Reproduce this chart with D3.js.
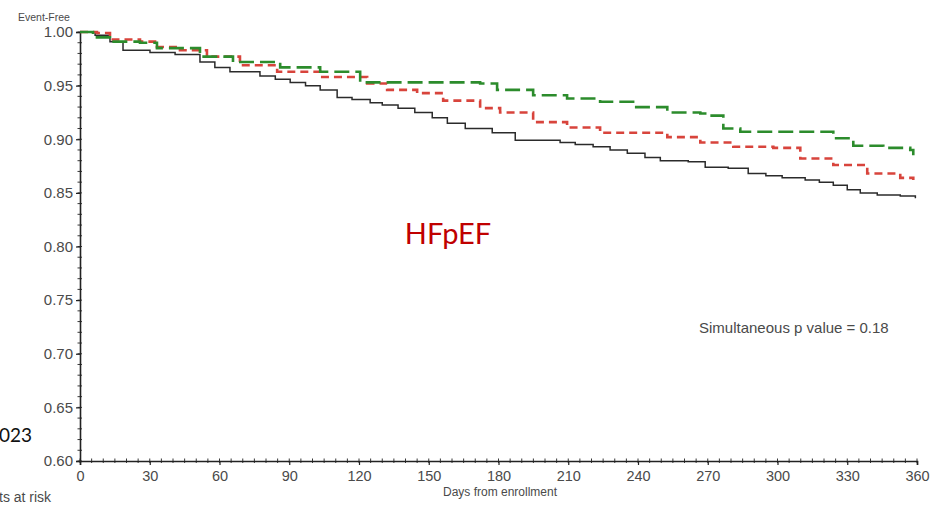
<!DOCTYPE html>
<html>
<head>
<meta charset="utf-8">
<script src="https://cdn.jsdelivr.net/npm/d3@7"></script>
<style>
  html, body { margin: 0; padding: 0; background: #fff; }
  svg { display: block; }
</style>
</head>
<body>
<svg id="chart" width="948" height="505"></svg>
<script>
// Kaplan-Meier event-free survival, HFpEF cohort
const xTicks = [0, 30, 60, 90, 120, 150, 180, 210, 240, 270, 300, 330, 360];
const yTicks = [0.60, 0.65, 0.70, 0.75, 0.80, 0.85, 0.90, 0.95, 1.00];

// black solid curve
const blackDays = [0, 6.5, 12.9, 18.5, 30.1, 40.9, 51.6, 58, 64.5, 77.4, 84, 90.4, 97, 103.3, 110.6, 117, 124.8, 130, 136.8, 144, 151.5, 158, 165.7, 177.3, 187.2, 206.5, 213, 220.7, 228, 235.4, 243, 249.6, 261.6, 268.9, 278.8, 287.4, 295, 302.0, 311.9, 318, 324.0, 330, 335.6, 342.9, 352.8, 359.3];
const blackVals = [1.000, 0.997, 0.991, 0.983, 0.981, 0.979, 0.972, 0.967, 0.963, 0.959, 0.956, 0.953, 0.950, 0.946, 0.939, 0.937, 0.934, 0.932, 0.929, 0.925, 0.920, 0.915, 0.910, 0.906, 0.899, 0.897, 0.895, 0.893, 0.890, 0.887, 0.883, 0.880, 0.879, 0.874, 0.873, 0.868, 0.866, 0.864, 0.862, 0.860, 0.857, 0.853, 0.850, 0.848, 0.847, 0.845];

// green long-dash curve
const greenDays = [0, 5.6, 12.9, 25.8, 33.1, 51.6, 65.8, 86.1, 103.3, 114.9, 120.5, 172.1, 179.4, 194.9, 209.5, 223.7, 237.9, 252.6, 266.8, 271.1, 276.7, 284.0, 317.1, 324.0, 332.6, 345.5, 357.1, 358.4];
const greenVals = [1.000, 0.995, 0.991, 0.990, 0.985, 0.977, 0.972, 0.967, 0.963, 0.963, 0.953, 0.952, 0.946, 0.941, 0.938, 0.935, 0.930, 0.925, 0.924, 0.922, 0.910, 0.907, 0.907, 0.901, 0.894, 0.892, 0.890, 0.885];

// red short-dash curve
const redDays = [0, 7.3, 12.9, 25.8, 33.1, 43.0, 54.6, 68.8, 84.8, 103.3, 116.2, 123.5, 132.1, 145.0, 156.2, 172.1, 180.7, 194.9, 209.5, 223.7, 252.6, 266.8, 281.0, 298.2, 309.8, 324.0, 338.6, 352.8, 358.4];
const redVals = [1.000, 0.999, 0.993, 0.991, 0.986, 0.983, 0.977, 0.969, 0.963, 0.958, 0.958, 0.952, 0.946, 0.943, 0.936, 0.929, 0.925, 0.916, 0.911, 0.906, 0.902, 0.897, 0.893, 0.892, 0.882, 0.876, 0.868, 0.864, 0.862];

const svg = d3.select("#chart");
const x = d3.scaleLinear().domain([0, 360]).range([80, 917]);
const y = d3.scaleLinear().domain([0.60, 1.00]).range([461, 32]);

const axisColor = "#222";
const labelColor = "#4a4a4a";
const font = "'Liberation Sans', Arial, sans-serif";

// minor ticks
const xMinor = d3.range(0, 361, 5);
const yMinor = d3.range(60, 101, 1).map(d => d / 100);

const xAxis = svg.append("g").attr("transform", "translate(0,461)")
  .call(d3.axisBottom(x).tickValues(xTicks).tickSize(4).tickFormat(d3.format("d")));
const yAxis = svg.append("g").attr("transform", "translate(80,0)")
  .call(d3.axisLeft(y).tickValues(yTicks).tickSize(4).tickFormat(d3.format(".2f")));

[xAxis, yAxis].forEach(g => {
  g.select(".domain").attr("stroke", axisColor).attr("stroke-width", 1.6);
  g.selectAll(".tick line").attr("stroke", axisColor).attr("stroke-width", 1.2);
  g.selectAll(".tick text").attr("fill", labelColor).style("font-family", font);
});
xAxis.selectAll(".tick text").style("font-size", "14.5px").attr("y", 10).attr("dy", "0.71em");
yAxis.selectAll(".tick text").style("font-size", "15px").attr("x", -7);

svg.append("g").selectAll("line").data(xMinor).join("line")
  .attr("x1", d => x(d)).attr("x2", d => x(d))
  .attr("y1", 458.5).attr("y2", 463)
  .attr("stroke", axisColor).attr("stroke-width", 0.9);
svg.append("g").selectAll("line").data(yMinor).join("line")
  .attr("x1", 77.5).attr("x2", 82)
  .attr("y1", d => y(d)).attr("y2", d => y(d))
  .attr("stroke", axisColor).attr("stroke-width", 0.9);

// survival curves
const line = d3.line().x(d => x(d[0])).y(d => y(d[1])).curve(d3.curveStepAfter);
const series = [
  {days: blackDays, vals: blackVals, color: "#2b2b2b", width: 1.5, dash: null},
  {days: redDays, vals: redVals, color: "#d8443c", width: 2.6, dash: "8,5"},
  {days: greenDays, vals: greenVals, color: "#2c8c2c", width: 2.6, dash: "15,6"}
];
series.forEach(s => {
  const pts = s.days.map((d, i) => [d, s.vals[i]]);
  svg.append("path").datum(pts)
    .attr("d", line)
    .attr("fill", "none")
    .attr("stroke", s.color)
    .attr("stroke-width", s.width)
    .attr("stroke-dasharray", s.dash);
});

// text annotations
svg.append("text").attr("x", 18).attr("y", 21).text("Event-Free")
  .attr("fill", labelColor).style("font-family", font).style("font-size", "10.5px");
svg.append("text").attr("x", 500).attr("y", 496).attr("text-anchor", "middle")
  .text("Days from enrollment")
  .attr("fill", labelColor).style("font-family", font).style("font-size", "12px");
svg.append("text").attr("x", 699).attr("y", 333).text("Simultaneous p value = 0.18")
  .attr("fill", labelColor).style("font-family", font).style("font-size", "15px");
svg.append("text").attr("x", 448).attr("y", 244).attr("text-anchor", "middle")
  .text("HFpEF")
  .attr("fill", "#c00000").style("font-family", "Lato, 'Open Sans', sans-serif").style("font-size", "29px");
svg.append("text").attr("x", -1).attr("y", 442).text("023")
  .attr("fill", "#111").style("font-family", "Lato, 'Open Sans', sans-serif").style("font-size", "19px");
svg.append("text").attr("x", -1).attr("y", 502).text("ts at risk")
  .attr("fill", labelColor).style("font-family", font).style("font-size", "14px");
</script>
</body>
</html>
